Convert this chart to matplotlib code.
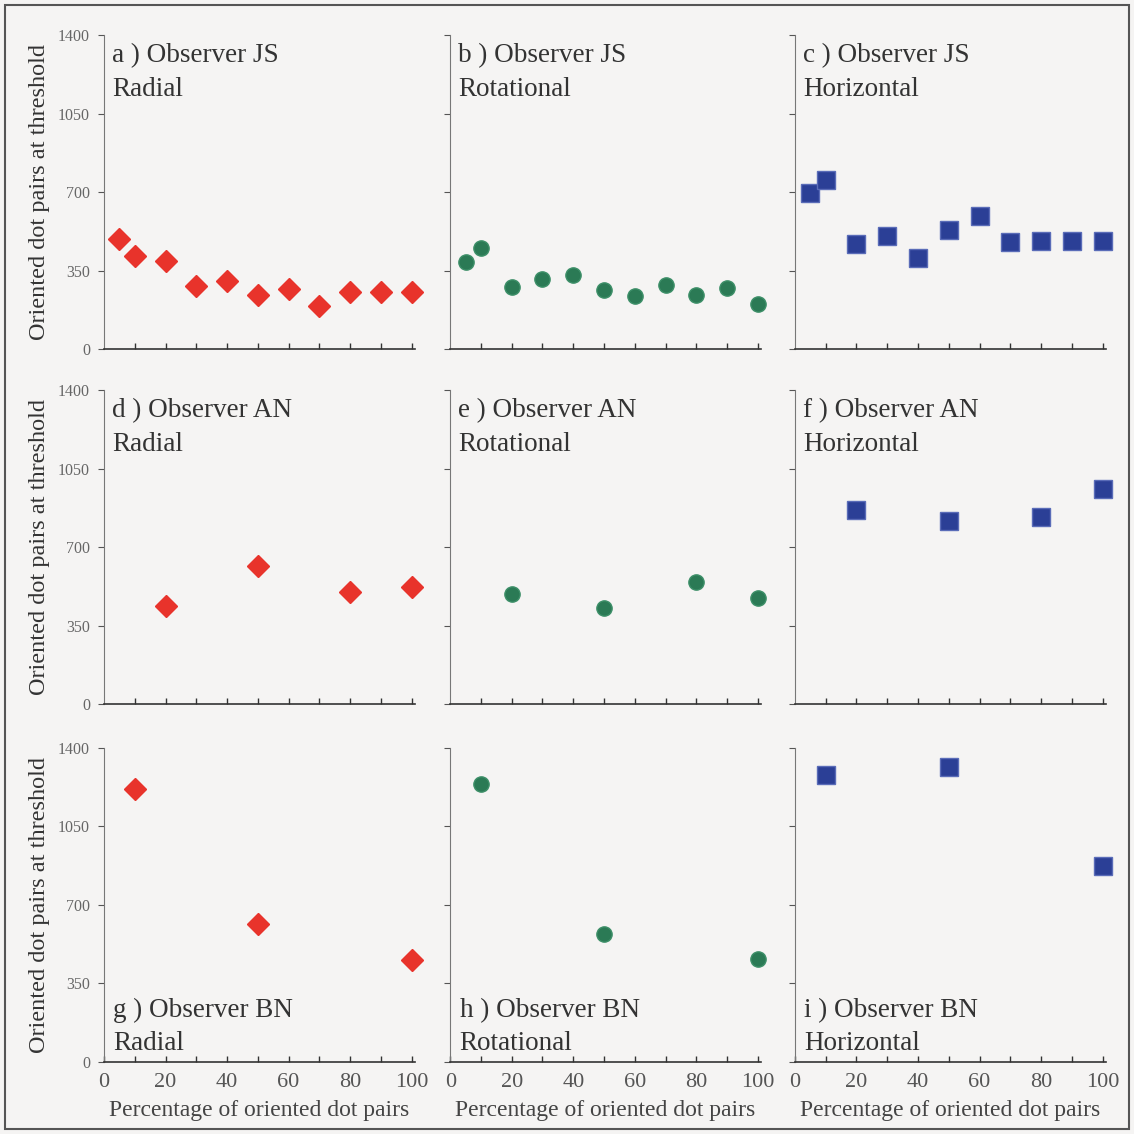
import numpy as np
import matplotlib
matplotlib.use('Agg')
import matplotlib.pyplot as plt
from matplotlib.patches import Rectangle

plt.rcParams['font.family'] = ['Liberation Serif', 'DejaVu Serif']

# x positions (percentage of oriented dot pairs)
xFull = [5, 10, 20, 30, 40, 50, 60, 70, 80, 90, 100]
xAN = [20, 50, 80, 100]
xBN = [10, 50, 100]

# observer JS
jsRadial = [492, 416, 394, 283, 306, 240, 270, 195, 257, 257, 257]
jsRotational = [391, 450, 277, 313, 331, 263, 236, 286, 240, 272, 200]
jsHorizontal = [695, 755, 468, 504, 405, 532, 595, 477, 482, 482, 482]
# observer AN
anRadial = [437, 617, 500, 522]
anRotational = [493, 428, 545, 473]
anHorizontal = [864, 815, 834, 960]
# observer BN
bnRadial = [1218, 615, 456]
bnRotational = [1238, 570, 459]
bnHorizontal = [1278, 1315, 873]

observers = ['JS', 'AN', 'BN']
conditions = ['Radial', 'Rotational', 'Horizontal']
letters = 'abcdefghi'
yTicks = [0, 350, 700, 1050, 1400]
xTickLabels = [0, 20, 40, 60, 80, 100]

rows = [(xFull, [jsRadial, jsRotational, jsHorizontal]),
        (xAN, [anRadial, anRotational, anHorizontal]),
        (xBN, [bnRadial, bnRotational, bnHorizontal])]

# marker style per condition
styles = [dict(marker='D', markersize=11, color='#e8332b', mec='#e8332b'),
          dict(marker='o', markersize=11, color='#2b7a55', mec='#3d8f68'),
          dict(marker='s', markersize=13, color='#2b3f96', mec='#5a6cb8')]

bg = '#f5f4f3'
fig = plt.figure(figsize=(11.34, 11.34), dpi=100, facecolor=bg)
fig.patches.append(Rectangle((0.004, 0.004), 0.992, 0.992, transform=fig.transFigure,
                             fill=False, ec='#555555', lw=1.5))

lefts = [0.0917, 0.397, 0.701]
bottoms = [0.692, 0.379, 0.0635]
w, h = 0.274, 0.277

for r in range(3):
    xs, series = rows[r]
    for c in range(3):
        ax = fig.add_axes([lefts[c], bottoms[r], w, h], facecolor=bg)
        ax.plot(xs, series[c], ls='none', clip_on=False, **styles[c])
        ax.set_xlim(0, 101)
        ax.set_ylim(0, 1400)
        for s in ['top', 'right']:
            ax.spines[s].set_visible(False)
        ax.spines['left'].set_color('#777777')
        ax.spines['left'].set_linewidth(0.8)
        ax.spines['bottom'].set_color('#333333')
        ax.spines['bottom'].set_linewidth(1.2)
        ax.set_yticks(yTicks)
        ax.set_xticks(np.arange(10, 101, 10))
        ax.tick_params(axis='y', direction='out', length=4, width=0.8, color='#555555',
                       labelsize=11.5, labelcolor='#666666', pad=6)
        ax.tick_params(axis='x', direction='in', length=4, width=1.0, color='#333333',
                       labelbottom=False)
        if c == 0:
            ax.set_ylabel('Oriented dot pairs at threshold', fontsize=17.5, color='#333333',
                          labelpad=6)
        else:
            ax.set_yticklabels([])
        if r == 2:
            ax.set_xticks(xTickLabels, minor=False)
            ax.set_xticks(np.arange(10, 101, 10), minor=True)
            ax.tick_params(axis='x', which='both', direction='in', length=4, width=1.0,
                           color='#333333')
            ax.tick_params(axis='x', which='major', labelbottom=True, labelsize=16,
                           labelcolor='#555555', pad=8)
            ax.set_xlabel('Percentage of oriented dot pairs', fontsize=17, color='#444444',
                          labelpad=6)
        label = '%s ) Observer %s\n%s' % (letters[r * 3 + c], observers[r], conditions[c])
        if r < 2:
            ax.text(0.026, 0.974, label, transform=ax.transAxes, va='top', ha='left',
                    fontsize=19.5, color='#333333', linespacing=1.45)
        else:
            ax.text(0.03, 0.02, label, transform=ax.transAxes, va='bottom', ha='left',
                    fontsize=19.5, color='#333333', linespacing=1.4)

fig.savefig('out.png', dpi=100, facecolor=bg)
